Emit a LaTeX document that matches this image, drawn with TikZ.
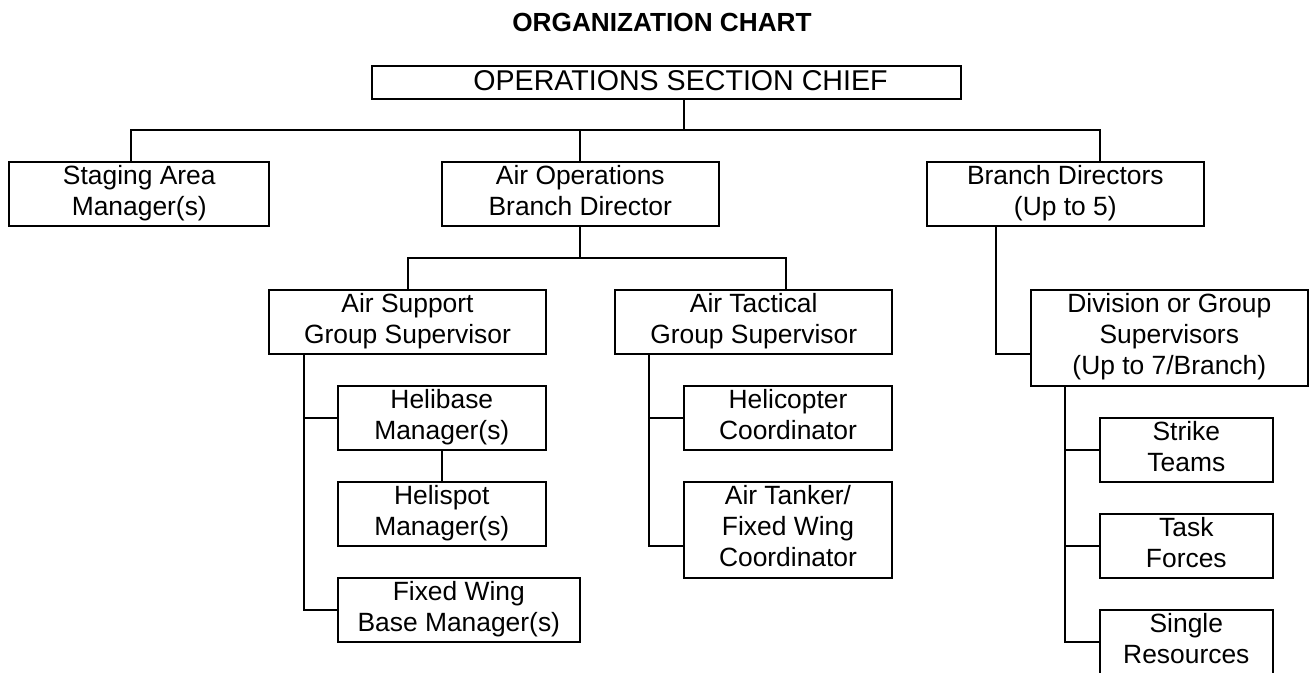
\documentclass[tikz,border=0pt]{standalone}
\usepackage{fontspec}
\setmainfont{Liberation Sans}
\tikzset{
  orgbox/.style={draw, line width=2pt, align=center, inner sep=0pt,
    minimum height=64pt, font=\fontsize{26.4}{31}\selectfont,
    execute at begin node={\rule{0pt}{25pt}},
    execute at end node={\rule[-8pt]{0pt}{8pt}}},
  link/.style={line width=2pt},
}

\begin{document}
\begin{tikzpicture}[x=1pt,y=-1pt]
\useasboundingbox (0,0) rectangle (1309,672);

\node[font=\bfseries\fontsize{26.2}{30}\selectfont] (title) at (662,22.5) {ORGANIZATION CHART};

% top levels
\node[orgbox, minimum width=589pt, minimum height=32pt] (osc) at (666.5,82)
  {\hspace*{28pt}\fontsize{28.6}{31}\selectfont OPERATIONS SECTION CHIEF};
\node[orgbox, minimum width=260pt] (staging)  at (139.3,194) {Staging Area\\Manager(s)};
\node[orgbox, minimum width=277pt] (airops)   at (580.3,194) {Air Operations\\Branch Director};
\node[orgbox, minimum width=277pt] (branch)   at (1065.3,194) {Branch Directors\\(Up to 5)};

% air operations
\node[orgbox, minimum width=277pt] (airsup)   at (407.5,322) {Air Support\\Group Supervisor};
\node[orgbox, minimum width=277pt] (airtac)   at (753.7,322) {Air Tactical\\Group Supervisor};
\node[orgbox, minimum width=208pt] (helibase) at (441.8,418) {Helibase\\Manager(s)};
\node[orgbox, minimum width=208pt] (helispot) at (441.8,514) {Helispot\\Manager(s)};
\node[orgbox, minimum width=242pt] (fixedbase) at (458.8,610) {Fixed Wing\\Base Manager(s)};
\node[orgbox, minimum width=208pt] (helicoord) at (788,418) {Helicopter\\Coordinator};
\node[orgbox, minimum width=208pt, minimum height=96pt] (tanker) at (788,530) {Air Tanker/\\Fixed Wing\\Coordinator};

% branches
\node[orgbox, minimum width=277pt, minimum height=96pt] (division) at (1169.3,338) {Division or Group\\Supervisors\\(Up to 7/Branch)};
\node[orgbox, minimum width=173pt] (strike) at (1186.3,450) {Strike\\Teams};
\node[orgbox, minimum width=173pt] (task)   at (1186.3,546) {Task\\Forces};
\node[orgbox, minimum width=173pt] (single) at (1186.3,642) {Single\\Resources};

% first level
\coordinate (bus) at (684.3,130);
\draw[link] (osc.south -| bus) -- (bus);
\draw[link] ([xshift=-8.3pt]staging.north) |- ([xshift=34.7pt]branch.north |- bus) -- ([xshift=34.7pt]branch.north);
\draw[link] (airops.north) -- (airops.north |- bus);

% air operations
\coordinate (airbus) at (580.3,257.5);
\draw[link] (airops.south) -- (airbus);
\draw[link] (airsup.north) |- ([xshift=32.3pt]airtac.north |- airbus) -- ([xshift=32.3pt]airtac.north);

\coordinate (suptrunk) at ([xshift=-103.5pt]airsup.south);
\draw[link] (suptrunk) |- (fixedbase.west);
\draw[link] (helibase.west) -- (helibase.west -| suptrunk);
\draw[link] (helibase.south) -- (helispot.north);

\coordinate (tactrunk) at ([xshift=-104.7pt]airtac.south);
\draw[link] (tactrunk) |- ([yshift=-16pt]tanker.west);
\draw[link] (helicoord.west) -- (helicoord.west -| tactrunk);

% branches
\draw[link] ([xshift=-69pt]branch.south) |- ([yshift=-16pt]division.west);
\coordinate (divtrunk) at ([xshift=-104.6pt]division.south);
\draw[link] (divtrunk) |- (single.west);
\foreach \n in {strike,task}
{
  \draw[link] (\n.west) -- (\n.west -| divtrunk);
}
\end{tikzpicture}
\end{document}
